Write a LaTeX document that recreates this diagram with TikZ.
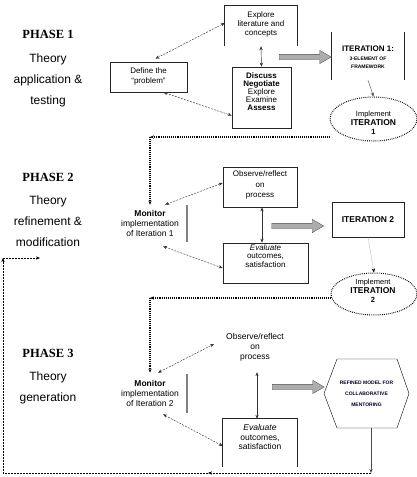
\documentclass[tikz,border=0pt]{standalone}
\usepackage{fontspec}
\setmainfont{Liberation Sans}
\newfontfamily\phasefont{Liberation Serif}
\usetikzlibrary{arrows.meta,shapes.geometric,shapes.arrows}
\newcommand\fsz[2]{\fontsize{#1}{#2}\selectfont}
\begin{document}
\begin{tikzpicture}[x=1pt,y=-1pt,
  >={Stealth[length=4pt,width=3.2pt]},
  frame/.style={draw=black!85, line width=0.7pt, inner sep=0pt},
  openframe/.style={inner sep=0pt},
  txt/.style={align=center, inner sep=0pt},
  phase/.style={font=\phasefont\bfseries\fsz{12.5}{14}, inner sep=0pt},
  phtext/.style={align=center, inner sep=0pt, font=\fsz{12}{21}},
  dconn/.style={dash pattern=on 2pt off 1.2pt, line width=0.45pt, draw=black!80, <->},
  sconn/.style={line width=0.45pt, draw=black!80, <->},
  thinarrow/.style={line width=0.4pt, draw=black!70, ->},
  dotconn/.style={line width=1.2pt, dash pattern=on 1pt off 0.9pt, ->},
  loopconn/.style={line width=0.5pt, dash pattern=on 2pt off 1pt, ->},
  bar/.style={draw=gray, line width=1.2pt},
  bigarrow/.style={single arrow, fill=gray!65, draw=gray!60!black, line width=0.3pt,
     minimum height=52pt, single arrow head extend=4pt, inner sep=2.5pt,
     single arrow tip angle=60},
  dotell/.style={ellipse, draw, line width=1pt, dash pattern=on 0.8pt off 1.1pt, inner sep=0pt}
]
\useasboundingbox (0,0) rectangle (417,477);

% ---------- Phase labels ----------
\node[phase] (p1) at (48,34) {PHASE 1};
\node[phtext] (p1t) at (48,80) {Theory\\application \&\\testing};
\node[phase] (p2) at (48,177) {PHASE 2};
\node[phtext] (p2t) at (48,221) {Theory\\refinement \&\\modification};
\node[phase] (p3) at (48,353) {PHASE 3};
\node[phtext] (p3t) at (48,388) {Theory\\generation};

% ---------- Phase 1 ----------
\node[frame, minimum width=77pt, minimum height=30pt] (define) at (148.5,77) {};
\node[txt, font=\fsz{8}{10}] (definet) at (148.5,76) {Define the\\“problem”};

\node[openframe, minimum width=72pt, minimum height=40pt] (explore) at (261,26) {};
\draw[black!85, line width=0.7pt] (explore.south west) -- (explore.north west) -- (explore.north east) -- (explore.south east);
\node[txt, font=\fsz{8}{9}] (exploret) at (261,24) {Explore\\literature and\\concepts};

\node[frame, minimum width=59pt, minimum height=61pt] (discuss) at (261.5,97.5) {};
\node[txt, font=\fsz{8}{8}] (discusst) at (261.5,92) {\textbf{Discuss}\\\textbf{Negotiate}\\Explore\\Examine\\\textbf{Assess}};

\node[openframe, minimum width=72pt, minimum height=48pt] (iter1) at (368,56) {};
\draw[black!85, line width=0.7pt] (iter1.south west) -- (iter1.north west);
\draw[black!85, line width=0.7pt] (iter1.south east) -- (iter1.north east);
\node[txt, font=\fsz{8}{8}] (iter1t) at (368,57) {\textbf{ITERATION 1:}\\[1pt]{\bfseries\fsz{5}{9}3-ELEMENT OF}\\{\bfseries\fsz{5}{9}FRAMEWORK}};

\node[dotell, minimum width=87pt, minimum height=44pt] (impl1) at (373.5,119) {};
\node[txt, font=\fsz{7.5}{9}] (impl1t) at (373.5,123) {Implement\\\textbf{\fsz{8.5}{9}ITERATION}\\\textbf{1}};

\node[bigarrow] (ba1) at (303,57) {};

\draw[dconn] ([xshift=7pt,yshift=3pt]define.north) -- ([yshift=3pt]explore.west);
\draw[dconn] ([xshift=15pt]define.south) -- ([yshift=-18pt]discuss.west);
\draw[sconn] (explore.south) -- (discuss.north);
\draw[thinarrow] (iter1.south) -- (impl1.north);

% ---------- Phase 2 ----------
\node[txt, font=\fsz{8.5}{10}] (monitor1) at (150,223) {\textbf{Monitor}\\implementation\\of Iteration 1};
\draw[bar] (187,205) -- (187,242);

\node[frame, minimum width=74pt, minimum height=40pt] (observe1) at (260,187) {};
\node[txt, font=\fsz{8}{10.5}] (observe1t) at (260,185) {Observe/reflect\\on\\process};

\node[frame, minimum width=85pt, minimum height=40pt] (evaluate1) at (265.5,263) {};
\node[txt, font=\fsz{8}{8.8}] (evaluate1t) at (265.5,256) {\textit{Evaluate}\\outcomes,\\satisfaction};

\node[frame, minimum width=72pt, minimum height=35pt] (iter2) at (368,219.5) {};
\node[txt, font=\bfseries\fsz{8.5}{9}] (iter2t) at (368,219.5) {ITERATION 2};

\node[dotell, minimum width=86pt, minimum height=42pt] (impl2) at (374,294) {};
\node[txt, font=\fsz{7.5}{9}] (impl2t) at (373,291) {Implement\\\textbf{\fsz{8.5}{9}ITERATION}\\\textbf{2}};

\node[bigarrow] (ba2) at (295.5,226) {};

\draw[dotconn] ([yshift=-18pt]impl1.west) -- ([yshift=-18pt]impl1.west -| monitor1.north);
\draw[dotconn] ([yshift=-18pt]impl1.west -| monitor1.north) -- ([yshift=5pt]monitor1.north);
\draw[dconn] ([xshift=15pt,yshift=5pt]monitor1.north) -- ([yshift=4pt]observe1.west);
\draw[dconn] ([xshift=13pt,yshift=-10pt]monitor1.south) -- ([yshift=-5pt]evaluate1.west);
\draw[sconn] ([xshift=2pt]observe1.south) -- ([xshift=-3.5pt]evaluate1.north);
\draw[line width=0.4pt, draw=black!25, -{Stealth[length=4pt,width=3.2pt,black]}] (iter2.south) -- (impl2.north);

% ---------- Phase 3 ----------
\node[txt, font=\fsz{8.5}{10}] (monitor2) at (150,393) {\textbf{Monitor}\\implementation\\of Iteration 2};
\draw[bar] (187,374) -- (187,413);

\node[txt, font=\fsz{8.5}{10}] (observe2) at (255,347) {Observe/reflect\\on\\process};

\node[openframe, minimum width=74pt, minimum height=48pt] (evaluate2) at (260,443) {};
\draw[black!85, line width=0.7pt] (evaluate2.south west) -- (evaluate2.north west) -- (evaluate2.north east) -- (evaluate2.south east);
\node[txt, font=\fsz{8.5}{9.5}] (evaluate2t) at (260,437) {\textit{Evaluate}\\outcomes,\\satisfaction};

\node[txt, font=\bfseries\fsz{5}{11}, text=black!85!blue] (hex) at (366.5,393.5) {REFINED MODEL FOR\\COLLABORATIVE\\MENTORING};
\draw[line width=0.4pt] (hex.center) +(-42.5,0) -- +(-29.5,-34.5) -- +(30.5,-34.5) -- +(42.5,0) -- +(30.5,34.5) -- +(-29.5,34.5) -- cycle;

\node[bigarrow] (ba3) at (296,387) {};

\draw[dotconn] ([yshift=-4pt]impl2.west) -- ([yshift=-4pt]impl2.west -| monitor2.north);
\draw[dotconn] ([yshift=-4pt]impl2.west -| monitor2.north) -- ([yshift=7pt]monitor2.north);
\draw[dconn] ([xshift=8pt,yshift=7pt]monitor2.north) -- ([xshift=-12pt,yshift=3pt]observe2.west);
\draw[dconn] ([xshift=13pt,yshift=-8pt]monitor2.south) -- ([yshift=-3pt]evaluate2.west);
\draw[sconn] ([xshift=2pt,yshift=-11pt]observe2.south) -- ([xshift=-3pt]evaluate2.north);

% ---------- Feedback loop ----------
\coordinate (hexb) at (371,428);
\coordinate (fb1) at (371,473);
\coordinate (fbm) at (208,473);
\coordinate (fb2) at (3,473);
\coordinate (fb3) at (3,258);
\coordinate (fb4) at (40,258);
\draw[thinarrow] (hexb) -- (fb1);
\draw[loopconn] (fb1) -- (fbm);
\draw[loopconn] (fbm) -- (fb2) -- (fb3);
\draw[loopconn] (fb3) -- (fb4);
\end{tikzpicture}
\end{document}
